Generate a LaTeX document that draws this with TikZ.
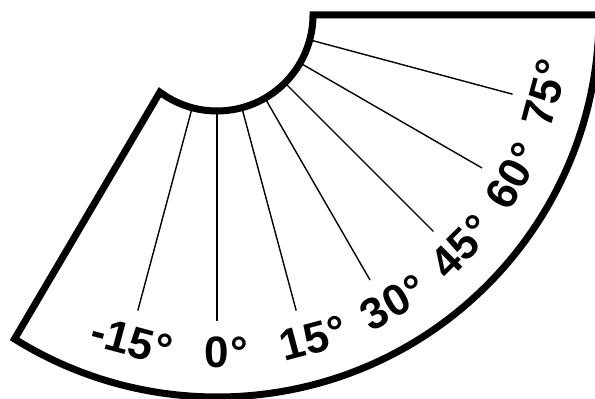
\documentclass[tikz,border=0pt]{standalone}
\usepackage{fontspec}
\setmainfont{Liberation Sans}
\usetikzlibrary{calc}

\begin{document}
\begin{tikzpicture}[x=1pt,y=1pt,
  every node/.style={font=\fontsize{44}{44}\selectfont\bfseries,inner sep=0pt},
  rim/.style={line width=7pt,line join=miter},
  ray/.style={line width=1.4pt}]
  \useasboundingbox (0,0) rectangle (595,399);
  \clip (0,0) rectangle (595,399);
  \coordinate (C) at (217,384);
  % outline of the scale
  \draw[rim] ($(C)+(5:382pt)$) arc[start angle=5,end angle=-122,radius=382pt]
    -- ($(C)+(-126.5:96pt)$) arc[start angle=-126.5,end angle=0,radius=96pt] -- ++(320,0);
  % rays and labels
  \foreach \a/\t in {-15/\llap{-}15,0/0,15/15,30/30,45/45,60/60,75/75} {
    \draw[ray] ($(C)+({\a-90}:97pt)$) -- ($(C)+({\a-90}:306pt)$);
    \node[rotate=\a] (l\a) at ($(C)+({\a-90}:337pt)$) {\t\rlap{\kern1pt°}};
  }
\end{tikzpicture}
\end{document}
